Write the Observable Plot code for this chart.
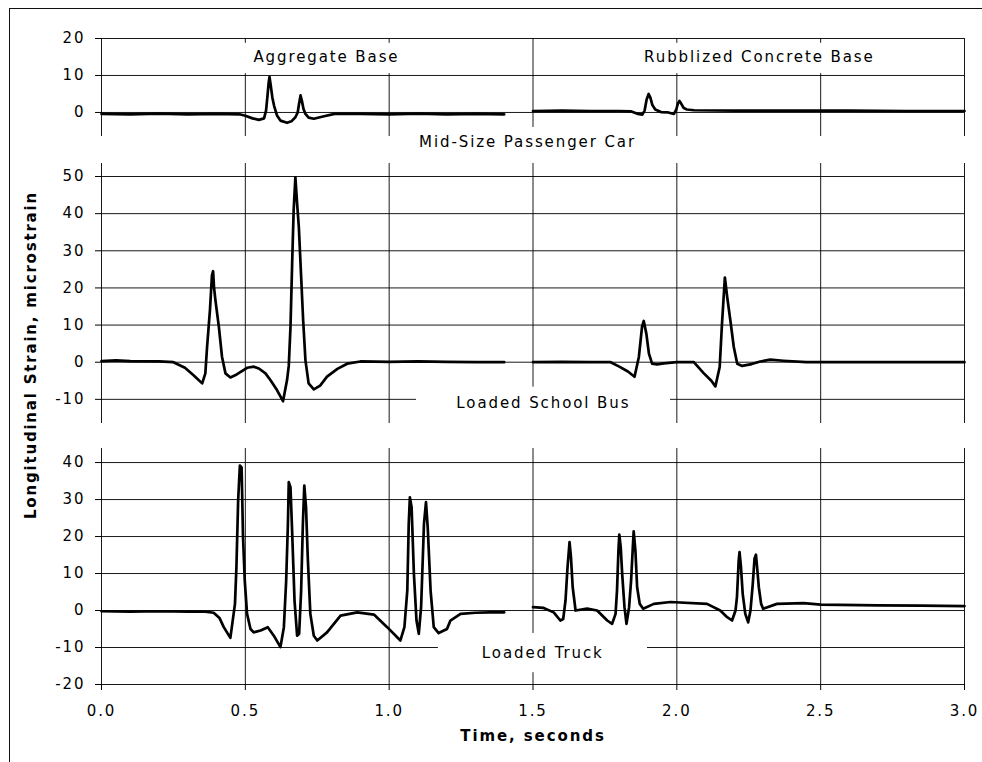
<!DOCTYPE html>
<html>
<head>
<meta charset="utf-8">
<script src="https://cdn.jsdelivr.net/npm/d3@7"></script>
<script src="https://cdn.jsdelivr.net/npm/@observablehq/plot@0.6"></script>
<style>
  html, body { margin: 0; padding: 0; background: #fff; }
  #chart { position: relative; width: 982px; height: 762px; overflow: hidden; background: #fff; font-family: "DejaVu Sans", sans-serif; }
  .panel { position: absolute; left: 0; }
  #frame { position: absolute; left: 9px; top: 8px; right: -10px; bottom: -10px; border-left: 1px solid #111; border-top: 1px solid #111; }
  #ytitle { position: absolute; left: 31px; top: 355px; width: 420px; text-align: center; transform: translate(-50%, -50%) rotate(-90deg); font-weight: bold; font-size: 15px; letter-spacing: 1.8px; color: #000; white-space: nowrap; }
</style>
</head>
<body>
<div id="chart">
  <div id="frame"></div>
  <div id="p1" class="panel" style="top:0px"></div>
  <div id="p2" class="panel" style="top:156px"></div>
  <div id="p3" class="panel" style="top:435px"></div>
  <div id="ytitle">Longitudinal Strain, microstrain</div>
</div>
<script>
// ---- Tick values ----
const timeTicks = [0, 0.5, 1.0, 1.5, 2.0, 2.5, 3.0];
const carTicks = [0, 10, 20];
const busTicks = [-10, 0, 10, 20, 30, 40, 50];
const truckTicks = [-20, -10, 0, 10, 20, 30, 40];

// ---- Mid-Size Passenger Car ----
const carAggT = [0, 0.1, 0.2, 0.3, 0.4, 0.48, 0.5, 0.525, 0.547, 0.565, 0.572, 0.577, 0.581, 0.584, 0.588, 0.594, 0.6, 0.61, 0.622, 0.645, 0.66, 0.674, 0.682, 0.687, 0.692, 0.697, 0.702, 0.709, 0.72, 0.738, 0.77, 0.81, 0.9, 1.0, 1.1, 1.2, 1.3, 1.4];
const carAggV = [-0.4, -0.5, -0.3, -0.5, -0.4, -0.5, -0.9, -1.6, -2.0, -1.6, 0.5, 4.5, 8, 9.6, 7.5, 4, 1.8, -0.8, -2.2, -2.8, -2.4, -1.3, 0, 2.5, 4.6, 3, 1, -0.4, -1.4, -1.7, -1.1, -0.4, -0.4, -0.5, -0.3, -0.5, -0.4, -0.5];
const carRubT = [1.5, 1.6, 1.7, 1.8, 1.84, 1.865, 1.88, 1.888, 1.895, 1.902, 1.908, 1.915, 1.925, 1.945, 1.97, 1.99, 1.998, 2.004, 2.009, 2.015, 2.024, 2.035, 2.06, 2.2, 2.4, 2.6, 2.8, 3.0];
const carRubV = [0.4, 0.5, 0.4, 0.4, 0.3, -0.4, -0.6, 0.5, 3.5, 5.0, 4, 2, 0.8, 0.1, 0, -0.4, 0.8, 2.5, 3.1, 2.4, 1.2, 0.8, 0.6, 0.5, 0.5, 0.5, 0.4, 0.4];

// ---- Loaded School Bus ----
const busAggT = [0, 0.05, 0.1, 0.2, 0.25, 0.29, 0.32, 0.35, 0.361, 0.367, 0.377, 0.384, 0.388, 0.391, 0.396, 0.408, 0.419, 0.431, 0.448, 0.47, 0.506, 0.53, 0.547, 0.57, 0.587, 0.61, 0.631, 0.645, 0.651, 0.657, 0.663, 0.668, 0.674, 0.68, 0.686, 0.694, 0.701, 0.709, 0.72, 0.738, 0.76, 0.784, 0.82, 0.854, 0.9, 1.0, 1.1, 1.2, 1.3, 1.4];
const busAggV = [0.3, 0.5, 0.3, 0.2, 0, -1.5, -3.5, -5.7, -3, 4.1, 14, 23.4, 24.5, 20.3, 16.7, 9.5, 1.4, -3, -4.1, -3.3, -1.5, -1.2, -1.7, -3.0, -4.8, -7.5, -10.5, -4.8, -1, 9.5, 27.4, 40.9, 49.8, 42.7, 36.4, 23, 11.3, 0.5, -5.7, -7.3, -6.3, -3.9, -1.8, -0.4, 0.2, 0.1, 0.2, 0.1, 0, 0];
const busRubT = [1.5, 1.6, 1.7, 1.77, 1.8, 1.83, 1.853, 1.868, 1.879, 1.885, 1.894, 1.903, 1.914, 1.931, 1.954, 2.0, 2.059, 2.094, 2.12, 2.134, 2.149, 2.157, 2.167, 2.175, 2.186, 2.198, 2.21, 2.227, 2.26, 2.29, 2.325, 2.37, 2.45, 2.6, 2.8, 3.0];
const busRubV = [0, 0.1, 0, 0, -1.2, -2.5, -3.9, 1.4, 9.5, 11.1, 7.7, 2.3, -0.4, -0.6, -0.3, 0, 0, -3, -5, -6.5, -1.3, 10.4, 22.8, 17.6, 11.3, 4.1, -0.4, -1, -0.5, 0.2, 0.7, 0.4, 0, 0, 0, 0];

// ---- Loaded Truck ----
const truckAggT = [0, 0.1, 0.2, 0.3, 0.36, 0.39, 0.41, 0.425, 0.448, 0.464, 0.469, 0.475, 0.481, 0.487, 0.492, 0.498, 0.506, 0.518, 0.529, 0.553, 0.578, 0.599, 0.622, 0.634, 0.642, 0.648, 0.651, 0.657, 0.663, 0.671, 0.68, 0.687, 0.694, 0.7, 0.705, 0.711, 0.717, 0.726, 0.738, 0.75, 0.784, 0.831, 0.889, 0.947, 0.993, 1.039, 1.053, 1.063, 1.068, 1.072, 1.078, 1.086, 1.095, 1.103, 1.111, 1.121, 1.128, 1.134, 1.144, 1.155, 1.172, 1.201, 1.213, 1.248, 1.3, 1.35, 1.4];
const truckAggV = [-0.2, -0.3, -0.2, -0.3, -0.3, -0.6, -2, -4.5, -7.4, 1.8, 11.7, 29.7, 39.2, 38.7, 19.8, 8.1, -0.9, -5, -5.9, -5.4, -4.5, -6.8, -9.9, -4.5, 8.1, 23.4, 34.7, 33.3, 20.7, 2.7, -6.8, -6.3, 5.4, 23.4, 33.8, 27.9, 14.4, -0.9, -6.8, -8.1, -5.9, -1.4, -0.5, -1.1, -4.5, -8.1, -4.5, 5.4, 23.4, 30.6, 27.9, 9.9, -2.7, -6.3, 0.9, 23.4, 29.3, 22.5, 5.4, -4.5, -6.1, -5, -2.7, -0.9, -0.6, -0.5, -0.5];
const truckRubT = [1.5, 1.537, 1.572, 1.595, 1.605, 1.613, 1.62, 1.627, 1.632, 1.638, 1.648, 1.688, 1.723, 1.758, 1.775, 1.787, 1.792, 1.797, 1.8, 1.805, 1.81, 1.818, 1.825, 1.834, 1.841, 1.847, 1.85, 1.856, 1.862, 1.871, 1.883, 1.92, 1.978, 2.105, 2.151, 2.175, 2.192, 2.204, 2.209, 2.215, 2.218, 2.223, 2.229, 2.238, 2.248, 2.256, 2.264, 2.27, 2.275, 2.279, 2.285, 2.293, 2.3, 2.348, 2.441, 2.5, 2.7, 2.85, 3.0];
const truckRubV = [0.9, 0.7, -0.5, -2.7, -2.3, 2.7, 11.7, 18.5, 14.4, 6.3, 0, 0.5, 0, -2.7, -3.6, -0.9, 5.4, 16.2, 20.5, 17.1, 9.9, 0.9, -3.6, 0.9, 8.1, 17.1, 21.4, 16.2, 6.3, 1.8, 0.5, 1.8, 2.3, 1.8, 0, -1.8, -2.7, 0, 3.6, 13.5, 15.8, 11.7, 4.5, -0.9, -3.2, 0, 7.2, 14, 15.1, 11.7, 6.3, 1.8, 0.5, 1.8, 2.0, 1.6, 1.4, 1.3, 1.2];

// ---- Annotation text ----
const baseNames = ["Aggregate Base", "Rubblized Concrete Base"];
const vehicleNames = ["Mid-Size Passenger Car", "Loaded School Bus", "Loaded Truck"];
const xTitle = "Time, seconds";

// ---- helpers ----
const rows = (t, v, base) => t.slice(0, Math.min(t.length, v.length)).map((x, i) => ({t: x, v: v[i], base}));
const font = {fontFamily: "'DejaVu Sans', sans-serif", fontSize: "15px", letterSpacing: "1.9px", background: "transparent", overflow: "visible", color: "#000"};
const INK = "#000";

function panel({series, yDomain, ticks, height, marginTop, marginBottom, boxes, labels, xAxis}) {
  const marks = [
    Plot.ruleY(ticks, {stroke: INK, strokeWidth: 1, strokeOpacity: 0.9}),
    Plot.ruleX(timeTicks, {stroke: INK, strokeWidth: 1, strokeOpacity: 0.9}),
    Plot.rect(boxes, {x1: "x1", x2: "x2", y1: "y1", y2: "y2", fill: "white"}),
    Plot.axisY(ticks, {tickSize: 6, tickPadding: 10, tickFormat: d => String(d), label: null, stroke: INK, fill: INK}),
    Plot.text(labels, {x: "x", y: "y", text: "text", fill: INK}),
    Plot.line(series, {x: "t", y: "v", z: "base", stroke: INK, strokeWidth: 2.7, strokeLinejoin: "round", curve: "linear"})
  ];
  if (xAxis) {
    marks.push(Plot.axisX(timeTicks, {tickSize: 6, tickPadding: 15, tickFormat: d3.format(".1f"), label: null, stroke: INK, fill: INK}));
    marks.push(Plot.text([xTitle], {frameAnchor: "bottom", dy: 56, fontWeight: "bold", letterSpacing: "1.6px", fill: INK}));
  }
  return Plot.plot({
    width: 982, height, marginLeft: 101, marginRight: 18, marginTop, marginBottom,
    x: {domain: [0, 3], ...(xAxis ? {} : {axis: null})},
    y: {domain: yDomain},
    style: font,
    marks
  });
}

// Panel 1: passenger car
document.getElementById("p1").append(panel({
  series: [...rows(carAggT, carAggV, baseNames[0]), ...rows(carRubT, carRubV, baseNames[1])],
  yDomain: [-6.5, 20], ticks: carTicks, height: 156, marginTop: 38, marginBottom: 20,
  boxes: [
    {x1: 0.01, x2: 1.49, y1: 10.5, y2: 18.7},
    {x1: 1.51, x2: 2.99, y1: 10.5, y2: 18.7},
    {x1: 1.05, x2: 1.93, y1: -4.05, y2: -6.5}
  ],
  labels: [
    {x: 0.782, y: 14.9, text: baseNames[0]},
    {x: 2.287, y: 14.9, text: baseNames[1]},
    {x: 1.481, y: -8.1, text: vehicleNames[0]}
  ]
}));

// Panel 2: school bus
document.getElementById("p2").append(panel({
  series: [...rows(busAggT, busAggV, baseNames[0]), ...rows(busRubT, busRubV, baseNames[1])],
  yDomain: [-16.5, 53.5], ticks: busTicks, height: 279, marginTop: 7, marginBottom: 12,
  boxes: [{x1: 1.095, x2: 1.978, y1: -6.7, y2: -16.5}],
  labels: [{x: 1.536, y: -11.0, text: vehicleNames[1]}]
}));

// Panel 3: truck
document.getElementById("p3").append(panel({
  series: [...rows(truckAggT, truckAggV, baseNames[0]), ...rows(truckRubT, truckRubV, baseNames[1])],
  yDomain: [-20, 43.8], ticks: truckTicks, height: 327, marginTop: 13, marginBottom: 78,
  boxes: [{x1: 1.171, x2: 1.898, y1: -6.2, y2: -16.8}],
  labels: [{x: 1.534, y: -11.6, text: vehicleNames[2]}],
  xAxis: true
}));
</script>
</body>
</html>
